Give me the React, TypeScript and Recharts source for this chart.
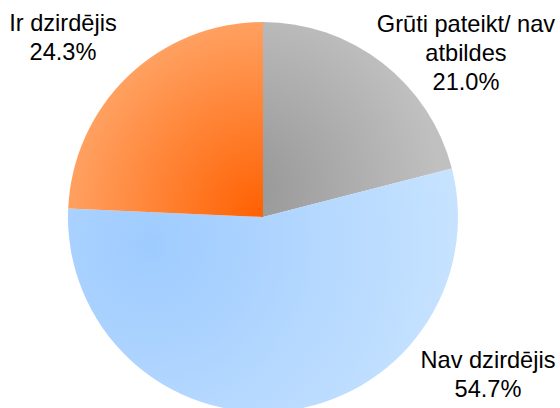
import React from 'react';
import { PieChart, Pie, Cell } from 'recharts';

const categories = ['Grūti pateikt/ nav\natbildes', 'Nav dzirdējis', 'Ir dzirdējis'];
const values = [21.0, 54.7, 24.3];

const data = categories.map((name, i) => ({ name, value: values[i] }));

const gradIds = ['gGray', 'gBlue', 'gOrange'];
// label anchor offsets relative to the pie centre (styling)
const labelOffsets = [
  { dx: 203, dy: -185 },
  { dx: 225, dy: 151 },
  { dx: -200, dy: -186 },
];

const FONT = 'Liberation Sans, Arial, sans-serif';
const FS = 23.6;
const LH = 29;

const renderLabel = (props: any) => {
  const { cx, cy, index, name, value } = props;
  const off = labelOffsets[index];
  const lines = String(name).split('\n').concat([`${Number(value).toFixed(1)}%`]);
  const x = cx + off.dx;
  const y0 = cy + off.dy;
  return (
    <text
      key={`lbl-${index}`}
      x={x}
      y={y0}
      textAnchor="middle"
      fontFamily={FONT}
      fontSize={FS}
      fill="#000"
    >
      {lines.map((l, i) => (
        <tspan key={i} x={x} y={y0 + i * LH}>
          {l}
        </tspan>
      ))}
    </text>
  );
};

export default function App() {
  return (
    <div style={{ position: 'absolute', left: 0, top: 0, width: 560, height: 408, background: '#fff' }}>
      <PieChart width={560} height={408} margin={{ top: 0, right: 0, bottom: 0, left: 0 }}>
        <defs>
          <radialGradient id="gGray" gradientUnits="userSpaceOnUse" cx={240} cy={190} r={200}>
            <stop offset="0%" stopColor="#959595" />
            <stop offset="100%" stopColor="#C0C0C0" />
          </radialGradient>
          <radialGradient id="gBlue" gradientUnits="userSpaceOnUse" cx={150} cy={245} r={330}>
            <stop offset="0%" stopColor="#9ECBFF" />
            <stop offset="100%" stopColor="#C9E4FF" />
          </radialGradient>
          <radialGradient id="gOrange" gradientUnits="userSpaceOnUse" cx={263} cy={217} r={200}>
            <stop offset="0%" stopColor="#FF6000" />
            <stop offset="100%" stopColor="#FFA263" />
          </radialGradient>
        </defs>
        <Pie
          data={data}
          dataKey="value"
          nameKey="name"
          cx={263}
          cy={217}
          outerRadius={195}
          startAngle={90}
          endAngle={-270}
          stroke="none"
          isAnimationActive={false}
          labelLine={false}
          label={renderLabel}
        >
          {data.map((d, i) => (
            <Cell key={d.name} fill={`url(#${gradIds[i]})`} />
          ))}
        </Pie>
      </PieChart>
    </div>
  );
}
